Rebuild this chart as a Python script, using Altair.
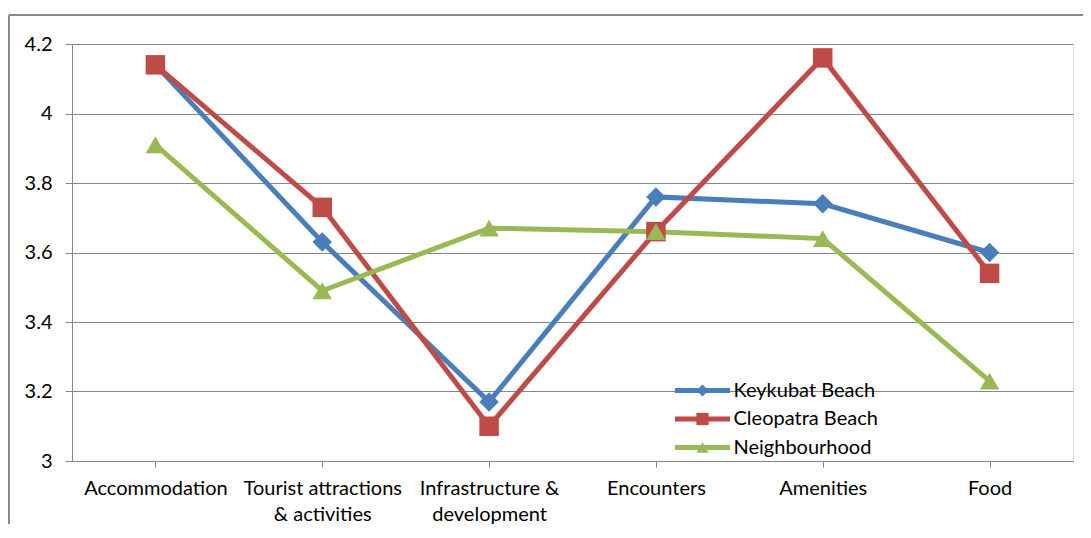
import altair as alt
import pandas as pd

categories = ["Accommodation", "Tourist attractions\n& activities", "Infrastructure &\ndevelopment",
              "Encounters", "Amenities", "Food"]
series = ["Keykubat Beach", "Cleopatra Beach", "Neighbourhood"]
keykubat = [4.14, 3.63, 3.17, 3.76, 3.74, 3.60]
cleopatra = [4.14, 3.73, 3.10, 3.66, 4.16, 3.54]
neighbourhood = [3.91, 3.49, 3.67, 3.66, 3.64, 3.23]
y_ticks = [3, 3.2, 3.4, 3.6, 3.8, 4, 4.2]
colors = ["#4A7EBB", "#BE4B48", "#98B954"]
shapes = ["diamond", "square", "triangle-up"]

rows = []
for name, vals in zip(series, [keykubat, cleopatra, neighbourhood]):
    for c, v in zip(categories, vals):
        rows.append({"category": c, "series": name, "series_s": name, "value": v})
df = pd.DataFrame(rows)

W, H = 1001, 417
FONT = "Lato"
FS = 20
GRID = "#868686"

x_enc = alt.X("category:N", sort=categories, title=None,
              scale=alt.Scale(domain=categories, paddingInner=0, paddingOuter=0),
              axis=alt.Axis(labelExpr="split(datum.label, '\\n')", labelAngle=0,
                            bandPosition=0, tickSize=6, tickColor=GRID, domainColor=GRID,
                            labelFont=FONT, labelFontSize=FS, labelColor="black",
                            labelPadding=11, labelLineHeight=26, grid=False,
                            labelBaseline="top"))
y_enc = alt.Y("value:Q", title=None,
              scale=alt.Scale(domain=[3, 4.2], nice=False, zero=False),
              axis=alt.Axis(values=y_ticks, format="~g", grid=True, gridColor=GRID,
                            domainColor=GRID, tickColor=GRID, tickSize=7,
                            labelFont=FONT, labelFontSize=FS, labelColor="black",
                            labelPadding=13))

base = alt.Chart(df)

LEG_X = 620.5
LEG_Y = 336.5
LEG_SIZE = 150
common = dict(title=None, orient="none", legendX=LEG_X, legendY=LEG_Y,
              symbolSize=LEG_SIZE, labelFont=FONT, labelFontSize=FS,
              labelColor="black", rowPadding=8.5, padding=0, labelOffset=21)

lines = base.mark_line(strokeWidth=5).encode(
    x=x_enc, y=y_enc,
    color=alt.Color("series:N", sort=series,
                    scale=alt.Scale(domain=series, range=colors),
                    legend=alt.Legend(symbolType="M-4.5,0H4.5", symbolStrokeWidth=5,
                                      **common)),
    detail="series:N",
)

leg2 = alt.Legend(labelOpacity=0, symbolStrokeWidth=0, **common)
points = base.mark_point(filled=True, size=380, opacity=1, strokeWidth=0).encode(
    x=x_enc, y=y_enc,
    color=alt.Color("series_s:N", sort=series,
                    scale=alt.Scale(domain=series, range=colors), legend=leg2),
    shape=alt.Shape("series_s:N", sort=series,
                    scale=alt.Scale(domain=series, range=shapes), legend=leg2),
)

one = alt.Chart(pd.DataFrame({"k": [0]}))
frame_top = one.mark_rule(color="#888888", strokeWidth=2).encode(
    x=alt.value(-63), x2=alt.value(W + 20), y=alt.value(-29))
frame_left = one.mark_rule(color="#888888", strokeWidth=2).encode(
    x=alt.value(-63), y=alt.value(-29), y2=alt.value(H + 80))

chart = alt.layer(frame_top, frame_left, lines, points).resolve_scale(
    color="independent", shape="independent"
).resolve_legend(color="independent", shape="independent").properties(
    width=W, height=H,
    autosize=alt.AutoSizeParams(type="none"),
    padding={"left": 64, "top": 36, "right": 10, "bottom": 63},
).configure_view(stroke=None).configure(background="white")

chart.save("out.html", embed_options={"renderer": "svg", "actions": False})
